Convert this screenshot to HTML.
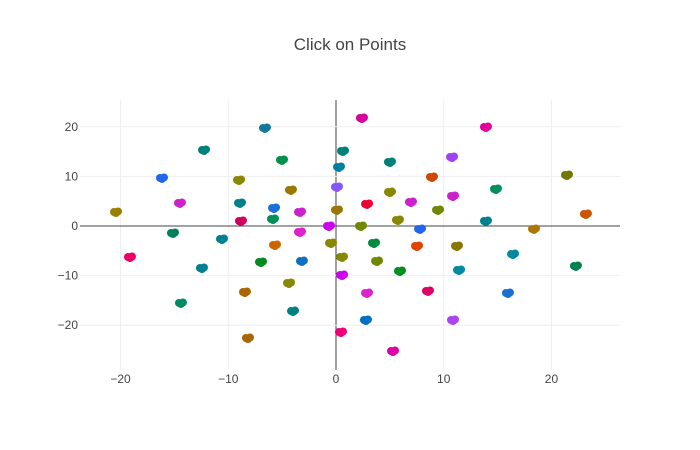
<!DOCTYPE html>
<html><head><meta charset="utf-8"><style>
body{margin:0;background:#fff;}
svg{display:block;font-family:"Liberation Sans",sans-serif;}
</style></head><body>
<svg id="chart" width="700" height="450">
<text x="350" y="50" text-anchor="middle" font-size="17" fill="#444">Click on Points</text>
<g id="grid"></g><g id="pts"></g><g id="ticks"></g>
</svg>
<script>
const xVals=[-6.59,2.41,13.92,-12.25,0.65,10.77,-5.01,5.01,0.28,-16.15,-9.0,8.91,21.44,-4.18,0.09,14.85,5.01,-14.48,-8.91,10.86,2.88,6.96,-5.75,-3.34,-20.42,0.09,9.47,23.2,-8.82,-5.85,5.75,13.92,-0.65,2.32,7.8,18.38,-15.13,-10.58,-3.34,-5.66,-0.46,3.53,7.52,11.23,-19.12,-6.96,-3.16,0.56,3.81,16.43,-12.44,11.42,5.94,22.27,0.56,-4.36,-8.45,8.54,2.88,15.96,-14.39,-3.99,2.78,10.86,0.46,-8.17,5.29];
const yVals=[19.76,21.77,19.96,15.32,15.12,13.91,13.31,12.9,11.9,9.68,9.27,9.88,10.28,7.26,7.86,7.46,6.85,4.64,4.64,6.05,4.44,4.84,3.63,2.82,2.82,3.23,3.23,2.42,1.01,1.41,1.21,1.01,0,0,-0.6,-0.6,-1.41,-2.62,-1.21,-3.83,-3.43,-3.43,-4.03,-4.03,-6.25,-7.26,-7.06,-6.25,-7.06,-5.65,-8.47,-8.87,-9.07,-8.06,-9.88,-11.49,-13.31,-13.1,-13.51,-13.51,-15.52,-17.14,-18.95,-18.95,-21.37,-22.58,-25.2];
const colors=["#117a9c","#d6009a","#e0009a","#00807a","#00807a","#a040f0","#00904a","#00807a","#007fa0","#2266ee","#888800","#d04800","#707800","#997700","#8855ff","#009060","#888800","#cc22cc","#00808a","#cc22cc","#ee0033","#cc22cc","#1a6fdc","#cc22cc","#998000","#997700","#708800","#cc5500","#d00060","#00905a","#888800","#008090","#cc00ee","#708800","#2266ee","#aa7700","#00805a","#008090","#dd22cc","#cc6600","#888800","#008a40","#dd4400","#887700","#ee0066","#008a20","#1070c0","#888800","#708800","#008aa0","#008090","#008aa0","#009020","#008050","#cc00ee","#888800","#aa6600","#dd0066","#dd22cc","#1a70d0","#008a60","#008080","#0070c0","#aa44ee","#ee0077","#aa6600","#dd00aa"];
const xTicks=[-20,-10,0,10,20];
const yTicks=[-20,-10,0,10,20];
const L=80,R=620,T=100,B=370,xMin=-23.76,xMax=26.36,yMin=-29.03,yMax=25.4;
const sx=v=>L+(v-xMin)/(xMax-xMin)*(R-L);
const sy=v=>B-(v-yMin)/(yMax-yMin)*(B-T);
const NS="http://www.w3.org/2000/svg";
function mk(tag,attrs,parent){const e=document.createElementNS(NS,tag);for(const k in attrs)e.setAttribute(k,attrs[k]);parent.appendChild(e);return e;}
const grid=document.getElementById('grid'),pts=document.getElementById('pts'),ticks=document.getElementById('ticks');
xTicks.forEach(t=>{
 const l=mk('line',{x1:sx(t),x2:sx(t),y1:T,y2:B,stroke:t===0?'#444':'#eee','stroke-width':1},grid);
 
 
 const tx=mk('text',{x:sx(t),y:B+13,'text-anchor':'middle','font-size':12,fill:'#444'},ticks);
 tx.textContent=t<0?'\u2212'+(-t):t;
 
 
});
yTicks.forEach(t=>{
 const l=mk('line',{x1:L,x2:R,y1:sy(t),y2:sy(t),stroke:t===0?'#444':'#eee','stroke-width':1},grid);
 
 
 const tx=mk('text',{x:L-2,y:sy(t)+4,'text-anchor':'end','font-size':12,fill:'#444'},ticks);
 tx.textContent=t<0?'\u2212'+(-t):t;
 
 
});
xVals.forEach((x,i)=>{
 const g=mk('g',{},pts);
 
 
 const cx=sx(x),cy=sy(yVals[i]);
 mk('circle',{cx:cx-2,cy:cy,r:4,fill:colors[i]},g);
 mk('circle',{cx:cx+2,cy:cy-0.5,r:4,fill:colors[i]},g);
 mk('circle',{cx:cx,cy:cy+1,r:4,fill:colors[i]},g);
});
</script>
</body></html>
